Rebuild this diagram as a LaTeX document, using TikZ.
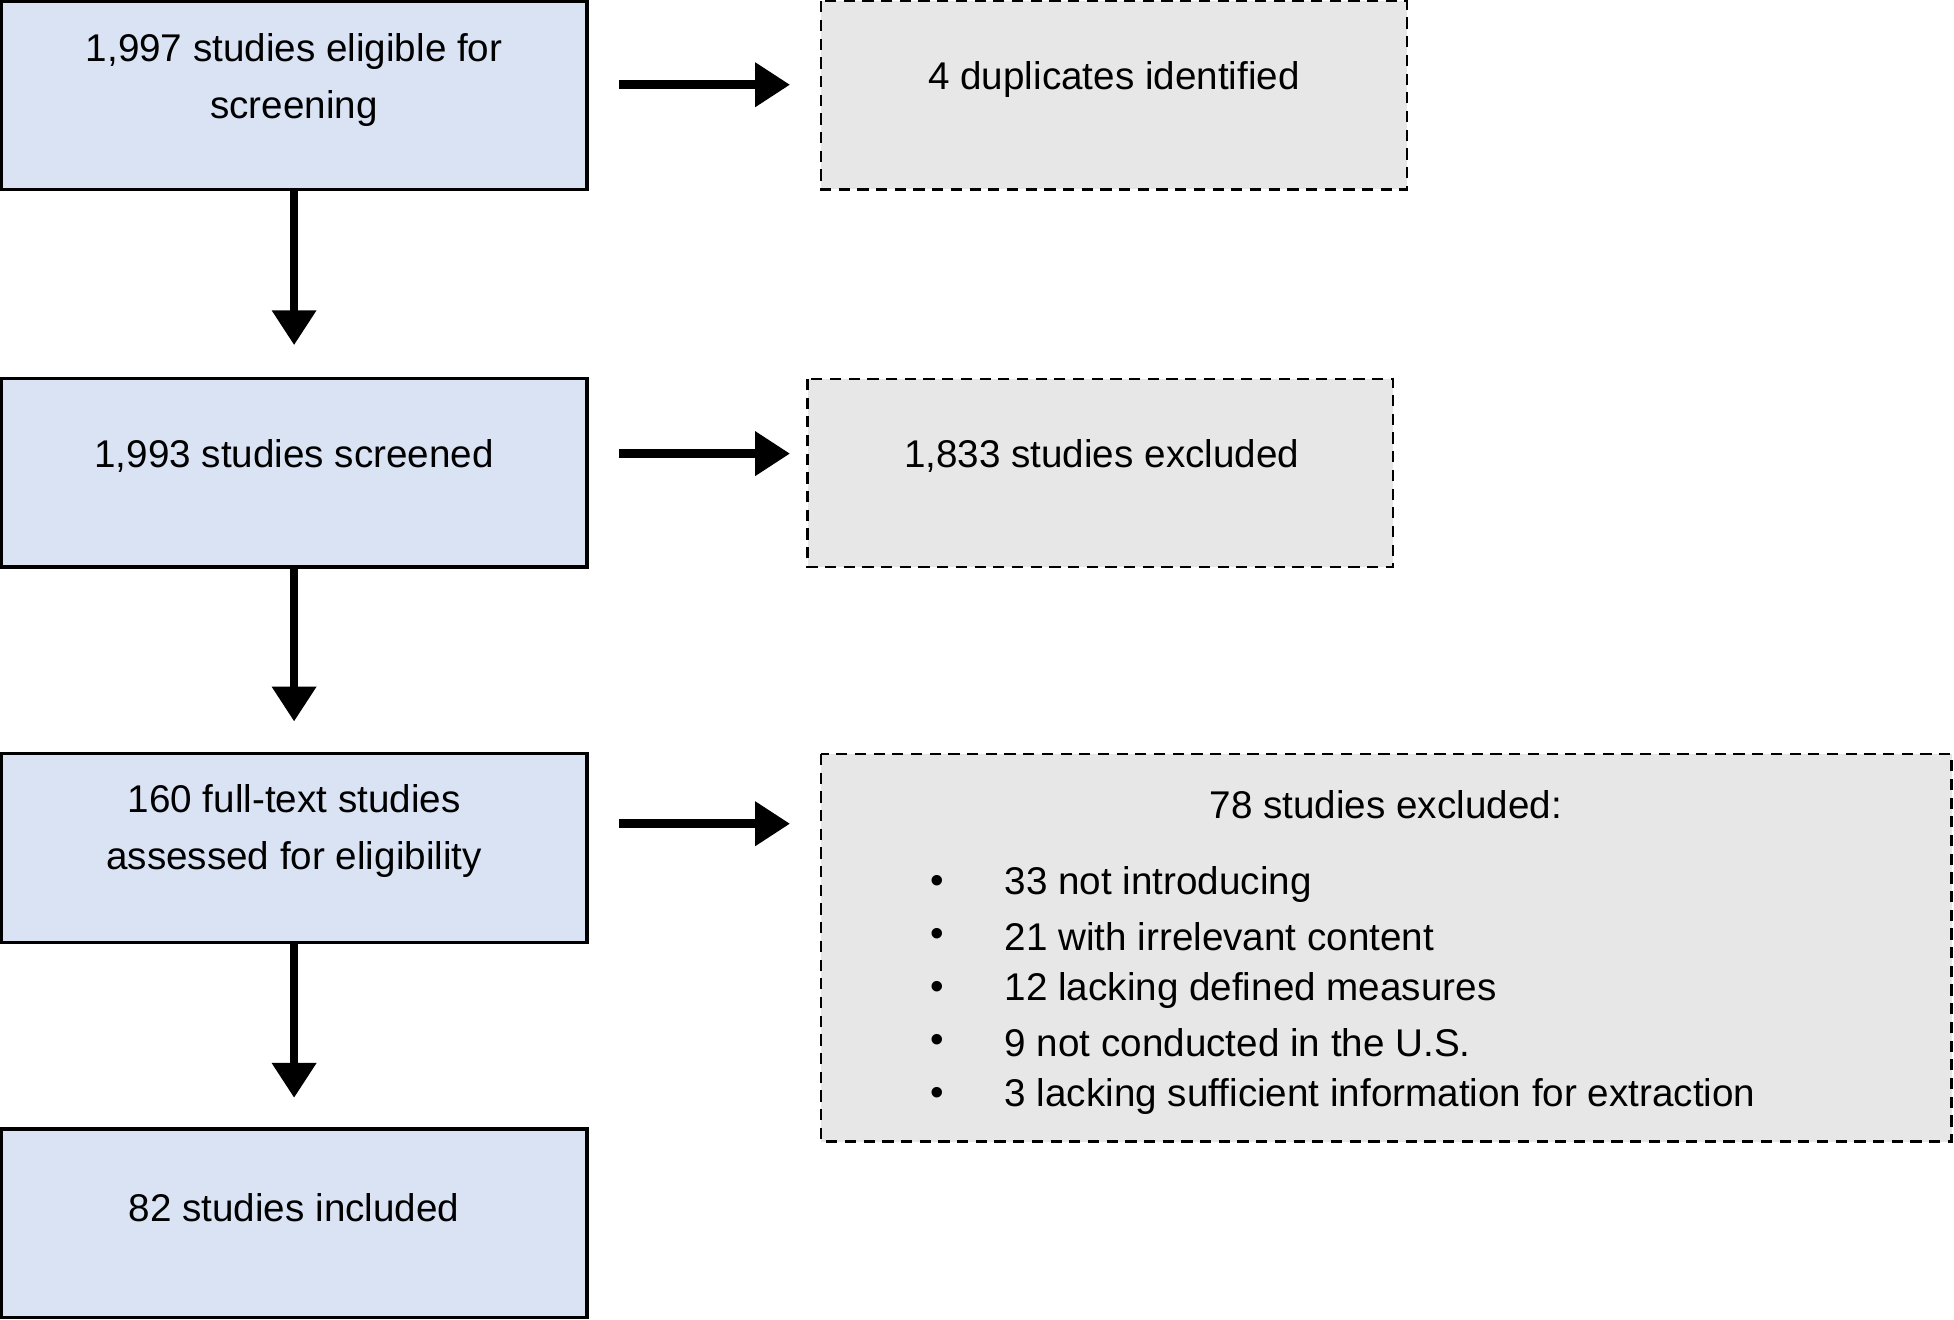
\documentclass[tikz,border=0pt]{standalone}
\usepackage{fontspec}
\setmainfont{Liberation Sans}
\usetikzlibrary{arrows.meta}
\definecolor{bl}{RGB}{218,227,243}
\definecolor{gr}{RGB}{231,231,231}
\begin{document}
\begin{tikzpicture}[x=1pt,y=-1pt,
  box/.style={draw=black,line width=2.5pt,fill=bl},
  dbox/.style={draw=black,line width=2pt,dash pattern=on 9pt off 6pt,fill=gr},
  txt/.style={font=\fontsize{31}{46}\selectfont,align=center},
  arr/.style={line width=7pt,-{Triangle[length=28pt,width=34pt]}}]
\useasboundingbox (0,0) rectangle (1568,1059);
\draw[box] (1,1) rectangle (471,152);
\draw[box] (1,304) rectangle (471,455);
\draw[box] (1,605) rectangle (471,756);
\draw[box] (1,906) rectangle (471,1057);
\draw[dbox] (659,1) rectangle (1129,152);
\draw[dbox] (648,304) rectangle (1118,455);
\draw[dbox] (659,605) rectangle (1566,916);
\node[txt] (a) at (236,64) {1,997 studies eligible for\\screening};
\node[txt] (b) at (236,366) {1,993 studies screened};
\node[txt] (c) at (236,667) {160 full-text studies\\assessed for eligibility};
\node[txt] (d) at (236,969) {82 studies included};
\node[txt] (e) at (894,64) {4 duplicates identified};
\node[txt] (f) at (884,366) {1,833 studies excluded};
\node[txt] (g) at (1112,646) {78 studies excluded:};
\foreach \y/\t in {710/33 not introducing/assessing measures/tools,752/21 with irrelevant content,795/12 lacking defined measures/tools,837/9 not conducted in the U.S.,880/3 lacking sufficient information for extraction}{
  \node[txt,anchor=center] at (752,\y) {•};
  \node[txt,anchor=west,inner sep=0pt] at (806,\y) {\t};}
\coordinate (h1s) at (497,68); \coordinate (h1e) at (634,68);
\coordinate (h2s) at (497,364); \coordinate (h2e) at (634,364);
\coordinate (h3s) at (497,661); \coordinate (h3e) at (634,661);
\draw[arr] (h1s) -- (h1e);
\draw[arr] (h2s) -- (h2e);
\draw[arr] (h3s) -- (h3e);
\draw[arr] (236,152) -- (236,277);
\draw[arr] (236,455) -- (236,579);
\draw[arr] (236,756) -- (236,881);
\end{tikzpicture}
\end{document}
